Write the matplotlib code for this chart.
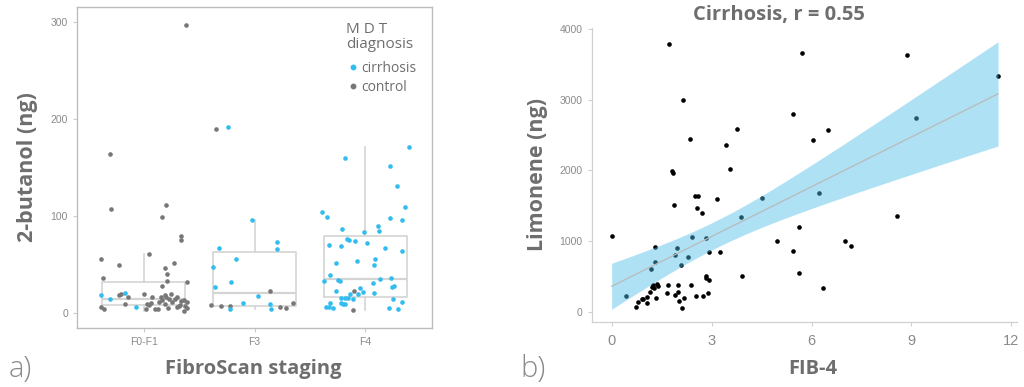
import numpy as np
import matplotlib
matplotlib.use("Agg")
import matplotlib.pyplot as plt
from matplotlib.lines import Line2D

# ---- panel a) : 2-butanol by FibroScan stage ----
stages = ["F0-F1", "F3", "F4"]

f01_ctrl_dx = [0.38, -0.30, -0.29, 0.20, 0.17, -0.38, -0.37, -0.22, 0.05, 0.34, 0.34, 0.27,
               0.19, 0.21, 0.21, 0.17, 0.39, -0.22, -0.20, -0.14, -0.17, 0.00, -0.38, -0.36,
               0.02, 0.03, 0.05, 0.07, 0.08, 0.10, 0.13, 0.14, 0.16, 0.17, 0.19, 0.19, 0.20,
               0.22, 0.23, 0.25, 0.26, 0.28, 0.30, 0.30, 0.32, 0.33, 0.34, 0.36, 0.36, 0.37,
               0.39, 0.39]
f01_ctrl_y = [296, 164, 107, 111, 99, 55.5, 36, 50, 61, 80, 75, 52,
              47, 40, 33, 28, 32, 19, 20, 17, 10, 20, 7, 4.5,
              4.5, 10, 9, 11, 17, 5, 5, 12, 17, 14, 10, 19, 16.5,
              6, 15, 19.5, 12, 15, 7, 17, 8, 9, 13, 2, 14, 8,
              6, 12]
f01_cirr_dx = [-0.38, -0.30, -0.17, -0.07]
f01_cirr_y = [19, 15, 20.5, 7]

f3_ctrl_dx = [-0.35, -0.39, -0.30, -0.22, 0.14, 0.23, 0.28, 0.35]
f3_ctrl_y = [190, 9, 8, 8, 23, 7, 6, 11]
f3_cirr_dx = [-0.24, -0.02, -0.32, 0.20, 0.20, -0.17, -0.37, -0.36, -0.21, 0.03, -0.10,
              0.14, -0.22, 0.15]
f3_cirr_y = [192, 96, 67.5, 73.6, 66, 56, 48, 27, 32, 17.5, 10.6, 10, 4.5, 4.5]

f4_ctrl_dx = [-0.10, -0.11]
f4_ctrl_y = [23, 3]
f4_cirr_dx = [-0.18, 0.22, 0.39, 0.28, 0.36, -0.39, -0.35, -0.21, -0.01, 0.11, 0.12, 0.22,
              0.33, -0.33, -0.22, -0.17, -0.15, -0.09, 0.01, 0.18, 0.33, -0.27, -0.08, 0.08,
              0.09, -0.32, -0.25, -0.23, -0.37, 0.13, 0.23, 0.07, -0.27, -0.22, -0.18, -0.16,
              -0.22, -0.20, -0.18, -0.14, -0.05, -0.02, -0.07, -0.11, 0.08, 0.24, 0.26, 0.25,
              0.33, -0.36, -0.33, -0.32, -0.29, 0.21, 0.29]
f4_cirr_y = [160, 152, 171, 131, 109, 104, 99, 87, 84, 90, 85, 98,
             96, 70, 69.5, 76, 75, 74, 72.6, 67, 64, 52, 54, 50,
             55.5, 39, 34, 33.5, 33, 35, 36, 31, 23, 16, 16, 16,
             11, 10, 10, 20, 26, 22, 20, 15, 20.5, 27, 28, 15,
             12, 6.5, 7, 11, 6, 6, 4]

# box statistics (q1, median, q3, whisker low, whisker high)
box_q1 = [9, 8, 17]
box_med = [15, 20.5, 35]
box_q3 = [32.5, 63.5, 80]
box_lo = [2, 4.5, 3]
box_hi = [61, 96, 171]

# ---- panel b) : limonene vs FIB-4 ----
fib4 = [0.00, 0.42, 0.73, 0.80, 0.90, 0.95, 1.05, 1.07, 1.15, 1.17, 1.22, 1.25, 1.28, 1.30,
        1.31, 1.33, 1.37, 1.38, 1.65, 1.70, 1.73, 1.82, 1.83, 1.88, 1.89, 1.91, 1.95, 1.98,
        2.00, 2.03, 2.08, 2.12, 2.15, 2.18, 2.28, 2.34, 2.39, 2.42, 2.49, 2.52, 2.55, 2.60,
        2.72, 2.75, 2.83, 2.84, 2.84, 2.90, 2.91, 2.92, 3.15, 3.24, 3.44, 3.55, 3.75, 3.89,
        3.92, 4.50, 4.97, 5.45, 5.45, 5.61, 5.63, 5.70, 6.03, 6.23, 6.33, 6.48, 7.02, 7.18,
        8.58, 8.87, 9.14, 11.60]
limonene = [1072, 217, 66, 142, 179, 184, 128, 213, 279, 609, 345, 373, 340, 708,
            911, 194, 392, 368, 269, 378, 3788, 1988, 1960, 1511, 236, 803, 897, 373,
            274, 146, 661, 52, 2999, 194, 770, 2451, 383, 1053, 1634, 222, 1474, 1634,
            1393, 217, 510, 472, 1048, 260, 850, 444, 1592, 841, 2366, 2026, 2593, 1346,
            501, 1606, 997, 2801, 864, 553, 1204, 3660, 2432, 1677, 340, 2579, 1001, 926,
            1360, 3637, 2749, 3339]

CYAN = "#33bcef"
GREY_PT = "#777777"
TXT = "#6e6e6e"
TICK = "#8a8a8a"
LINE = "#d4d4d4"
HEAD = dict(family="Open Sans", fontweight="bold", color=TXT)

fig = plt.figure(figsize=(10.24, 3.87), dpi=100)

# ---------------- panel a ----------------
ax1 = fig.add_axes([0.0752, 0.1525, 0.3467, 0.8295])

stats = []
for i in range(3):
    stats.append(dict(med=box_med[i], q1=box_q1[i], q3=box_q3[i],
                      whislo=box_lo[i], whishi=box_hi[i], fliers=[]))
ax1.bxp(stats, positions=[1, 2, 3], widths=0.75, showcaps=False,
        boxprops=dict(color=LINE, lw=1.2), whiskerprops=dict(color=LINE, lw=1.2),
        medianprops=dict(color=LINE, lw=1.6))

groups = [(f01_ctrl_dx, f01_ctrl_y, f01_cirr_dx, f01_cirr_y),
          (f3_ctrl_dx, f3_ctrl_y, f3_cirr_dx, f3_cirr_y),
          (f4_ctrl_dx, f4_ctrl_y, f4_cirr_dx, f4_cirr_y)]
for i, (cdx, cy, zdx, zy) in enumerate(groups):
    ax1.scatter(i + 1 + np.array(cdx), cy, s=11, color=GREY_PT, lw=0, zorder=3)
    ax1.scatter(i + 1 + np.array(zdx), zy, s=11, color=CYAN, lw=0, zorder=3)

ax1.set_xlim(0.4, 3.6)
ax1.set_ylim(-15, 315)
ax1.set_xticks([1, 2, 3])
ax1.set_xticklabels(stages)
ax1.set_yticks([0, 100, 200, 300])
for sp in ax1.spines.values():
    sp.set_color("#bdbdbd")
    sp.set_linewidth(1.0)
ax1.tick_params(colors="#cccccc", labelcolor=TICK, labelsize=7.5, length=3, width=0.8)
for lab in ax1.get_xticklabels() + ax1.get_yticklabels():
    lab.set_family("Liberation Sans")
ax1.set_ylabel("2-butanol (ng)", fontsize=15.5, labelpad=9, **HEAD)

handles = [Line2D([], [], marker="o", ls="", ms=3.2, color=CYAN, label="cirrhosis"),
           Line2D([], [], marker="o", ls="", ms=3.2, color=GREY_PT, label="control")]
leg = ax1.legend(handles=handles, title="M D T\ndiagnosis", loc="upper left",
                 bbox_to_anchor=(0.73, 0.985), frameon=False, handletextpad=0.1,
                 handlelength=1.0, labelspacing=0.25, borderpad=0.2,
                 prop=dict(family="Open Sans", size=10))
leg.get_title().set_color(TXT)
leg.get_title().set_fontsize(11)
leg.get_title().set_family("Open Sans")
leg.get_title().set_linespacing(1.0)
leg._legend_box.align = "left"
leg._legend_box.sep = 7
for t in leg.get_texts():
    t.set_color(TXT)

fig.text(0.247, 0.047, "FibroScan staging", ha="center", va="center", fontsize=14.5,
         **HEAD)
fig.text(0.008, 0.045, "a)", ha="left", va="center", fontsize=21, color="#8a8a8a",
         family="Open Sans", fontweight="light")

# ---------------- panel b ----------------
ax2 = fig.add_axes([0.5778, 0.168, 0.4154, 0.7597])

x = np.array(fib4)
y = np.array(limonene)
n = len(x)
slope, intercept = np.polyfit(x, y, 1)
resid = y - (slope * x + intercept)
s = np.sqrt(np.sum(resid ** 2) / (n - 2))
sxx = np.sum((x - x.mean()) ** 2)
xs = np.linspace(x.min(), x.max(), 200)
fit = slope * xs + intercept
se = s * np.sqrt(1.0 / n + (xs - x.mean()) ** 2 / sxx)
t_crit = 1.993  # 95% t quantile, df = n - 2

ax2.scatter(x, y, s=11, color="black", lw=0, zorder=2)
ax2.fill_between(xs, fit - t_crit * se, fit + t_crit * se, color="#4fbee9",
                 alpha=0.45, lw=0, zorder=3)
ax2.plot(xs, fit, color="#b9b9b9", lw=0.9, zorder=4)

ax2.set_xlim(-0.6, 12.17)
ax2.set_ylim(-146, 4018)
ax2.set_xticks([0, 3, 6, 9, 12])
ax2.set_yticks([0, 1000, 2000, 3000, 4000])
for side in ["top", "right"]:
    ax2.spines[side].set_visible(False)
for side in ["left", "bottom"]:
    ax2.spines[side].set_color("#d0d0d0")
    ax2.spines[side].set_linewidth(0.9)
ax2.tick_params(axis="y", colors="#d0d0d0", labelcolor=TICK, labelsize=7.5, length=3)
ax2.tick_params(axis="x", colors="#d0d0d0", labelcolor=TICK, labelsize=10.5, length=3,
                pad=6)
for lab in ax2.get_xticklabels() + ax2.get_yticklabels():
    lab.set_family("Liberation Sans")
ax2.set_ylabel("Limonene (ng)", fontsize=15.5, labelpad=8, **HEAD)
ax2.set_title("Cirrhosis, r = 0.55", fontsize=14.5, x=0.44, pad=6, **HEAD)

fig.text(0.794, 0.047, "FIB-4", ha="center", va="center", fontsize=14.5, **HEAD)
fig.text(0.508, 0.045, "b)", ha="left", va="center", fontsize=21, color="#8a8a8a",
         family="Open Sans", fontweight="light")

fig.savefig("out.png", dpi=100)
